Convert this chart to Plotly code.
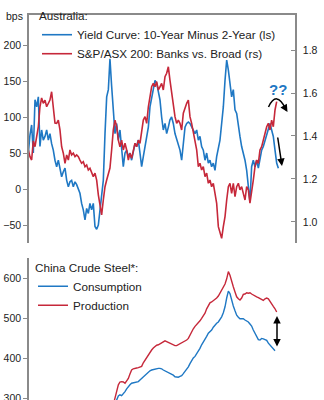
import plotly.graph_objects as go
import pandas as pd

# ---------------- data (bimonthly observations) ----------------
# Australia: yield curve 10Y minus 2Y, bps (left scale)
yield_curve_bps = [50, 75, 89, 50, 124, 114, 128, 59, 82, 68, 73, 82, 68, 77, 63, 54, 40, 31, 40, 29,
                   17, 24, 29, 12, 3, 10, 12, 3, 10, 6, -1, -6, -20, -29, -43, -27, -34, -20, -29, -20,
                   -52, -56, -50, -29, -15, 12, 77, 128, 138, 181, 143, 110, 77, 91, 68, 82, 54, 31, 50, 54,
                   45, 50, 40, 54, 63, 59, 68, 50, 31, 45, 59, 68, 86, 114, 128, 138, 151, 147, 133, 124,
                   100, 82, 91, 77, 86, 96, 100, 91, 77, 68, 63, 54, 40, 63, 86, 91, 93, 91, 86, 82,
                   77, 82, 68, 73, 59, 54, 40, 50, 36, 40, 31, 36, 26, 45, 59, 68, 91, 114, 151, 179,
                   165, 144, 128, 138, 110, 105, 86, 73, 59, 50, 40, 26, 3, -18, 31, 40, 31, 40, 29, 45,
                   54, 59, 68, 77, 86, 91, 82, 73, 54, 36, 29]
# S&P/ASX 200 banks vs. broad market, ratio (right scale)
banks_vs_broad = [1.335, 1.304, 1.288, 1.377, 1.350, 1.397, 1.443, 1.536, 1.577, 1.552, 1.567, 1.536, 1.552, 1.567,
                  1.606, 1.544, 1.460, 1.459, 1.474, 1.428, 1.350, 1.320, 1.273, 1.312, 1.288, 1.335, 1.312, 1.320,
                  1.304, 1.312, 1.304, 1.288, 1.273, 1.280, 1.257, 1.265, 1.242, 1.250, 1.227, 1.211, 1.227, 1.195,
                  1.126, 1.087, 1.033, 1.102, 1.164, 1.195, 1.227, 1.251, 1.335, 1.428, 1.474, 1.443, 1.381, 1.350,
                  1.381, 1.335, 1.366, 1.335, 1.288, 1.320, 1.296, 1.335, 1.366, 1.350, 1.381, 1.366, 1.413, 1.474,
                  1.490, 1.459, 1.536, 1.583, 1.629, 1.645, 1.629, 1.653, 1.614, 1.629, 1.645, 1.614, 1.676, 1.692,
                  1.722, 1.660, 1.599, 1.536, 1.490, 1.459, 1.474, 1.459, 1.428, 1.506, 1.536, 1.552, 1.567, 1.490,
                  1.459, 1.413, 1.381, 1.335, 1.257, 1.273, 1.242, 1.257, 1.211, 1.227, 1.180, 1.195, 1.164, 1.180,
                  1.133, 1.087, 0.978, 0.947, 0.924, 0.978, 1.025, 1.102, 1.164, 1.180, 1.133, 1.180, 1.118, 1.164,
                  1.180, 1.149, 1.164, 1.133, 1.102, 1.164, 1.149, 1.087, 1.133, 1.195, 1.257, 1.288, 1.273, 1.335,
                  1.350, 1.381, 1.413, 1.443, 1.459, 1.428, 1.474, 1.443, 1.521, 1.560]
# China crude steel
steel_production = [284, 301, 321, 334, 341, 342, 341, 338, 344, 350, 361, 371, 374, 376, 376, 377, 378, 380, 389, 396,
                    402, 409, 415, 421, 426, 430, 433, 434, 436, 438, 441, 444, 442, 440, 438, 435, 434, 432, 432, 434,
                    436, 438, 441, 444, 446, 450, 459, 467, 474, 480, 484, 488, 494, 500, 506, 513, 524, 534, 539, 541,
                    544, 548, 551, 556, 564, 571, 579, 586, 599, 617, 608, 596, 579, 566, 554, 549, 546, 551, 560, 561,
                    564, 563, 564, 561, 558, 556, 554, 552, 550, 546, 545, 549, 551, 549, 542, 536, 530, 524, 516]
steel_consumption = [271, 296, 306, 309, 307, 311, 317, 324, 330, 334, 338, 339, 340, 341, 342, 346, 350, 355, 359, 362,
                     365, 369, 371, 372, 374, 375, 375, 375, 374, 371, 369, 367, 365, 363, 360, 358, 354, 354, 353, 355,
                     357, 362, 367, 374, 379, 387, 396, 401, 405, 411, 417, 425, 434, 440, 446, 455, 463, 466, 471, 478,
                     484, 488, 491, 496, 504, 514, 529, 551, 568, 562, 544, 531, 519, 508, 503, 499, 499, 499, 496, 494,
                     491, 486, 481, 471, 463, 456, 447, 446, 450, 449, 446, 445, 438, 434, 429, 424, 419]

top_dates = pd.date_range("2001-01-01", periods=len(yield_curve_bps), freq="2MS")
bank_dates = pd.date_range("2001-01-01", periods=len(banks_vs_broad), freq="2MS")
prod_dates = pd.date_range("2009-07-01", periods=len(steel_production), freq="2MS")
cons_dates = pd.date_range("2009-09-01", periods=len(steel_consumption), freq="2MS")

left_ticks_top = [-50, 0, 50, 100, 150, 200]
right_ticks_top = [1.0, 1.2, 1.4, 1.6, 1.8]
ticks_bottom = [300, 400, 500, 600]

# ---------------- style ----------------
BLUE = "#1f78c4"
RED = "#c6283a"
GREY = "#8a8a8a"
TXT = "#222222"
FONT = "Liberation Sans, Arial, sans-serif"
W, H = 324, 400
ML, MR, MT, MB = 29, 29, 15, 0
PW, PH = W - ML - MR, H - MT - MB


def px_x(p):
    return (p - ML) / PW


def px_y(p):
    return (H - MB - p) / PH


XRANGE = ["2001-01-25", "2027-09-01"]

fig = go.Figure()
fig.add_trace(go.Scatter(x=top_dates, y=yield_curve_bps, name="Yield Curve: 10-Year Minus 2-Year (ls)",
                         mode="lines", line=dict(color=BLUE, width=1.6), xaxis="x", yaxis="y", legend="legend"))
fig.add_trace(go.Scatter(x=bank_dates, y=banks_vs_broad, name="S&P/ASX 200: Banks vs. Broad (rs)",
                         mode="lines", line=dict(color=RED, width=1.6), xaxis="x", yaxis="y2", legend="legend"))
fig.add_trace(go.Scatter(x=cons_dates, y=steel_consumption, name="Consumption",
                         mode="lines", line=dict(color=BLUE, width=1.4), xaxis="x2", yaxis="y3", legend="legend2"))
fig.add_trace(go.Scatter(x=prod_dates, y=steel_production, name="Production",
                         mode="lines", line=dict(color=RED, width=1.4), xaxis="x2", yaxis="y3", legend="legend2"))

axis_common = dict(showgrid=False, zeroline=False, showline=True, linecolor=GREY, linewidth=1.5,
                   tickcolor=GREY, ticklen=4, tickwidth=1, automargin=False,
                   tickfont=dict(size=10.5, color=TXT, family=FONT))
top_dom = [px_y(243), 1]
bot_dom = [0, px_y(258)]

fig.update_layout(
    width=W, height=H, margin=dict(l=ML, r=MR, t=MT, b=MB, autoexpand=False),
    paper_bgcolor="white", plot_bgcolor="white",
    font=dict(family=FONT, color=TXT, size=11.7),
    xaxis=dict(domain=[0, 1], range=XRANGE, anchor="y", side="top", showline=True, linecolor=GREY,
               linewidth=1.5, showticklabels=False, ticks="", showgrid=False, zeroline=False, automargin=False),
    xaxis2=dict(domain=[0, 1], range=XRANGE, anchor="y3", showline=False, showticklabels=False,
                ticks="", showgrid=False, zeroline=False, automargin=False),
    yaxis=dict(domain=top_dom, range=[-75, 241.7], tickvals=left_ticks_top, ticks="outside",
               anchor="x", **axis_common),
    yaxis2=dict(domain=top_dom, range=[0.902, 1.963], tickvals=right_ticks_top, tickformat=".1f",
                ticks="inside", overlaying="y", side="right", anchor="x", ticklabelstandoff=4, **axis_common),
    yaxis3=dict(domain=bot_dom, range=[296, 651], tickvals=ticks_bottom, ticks="outside",
                anchor="x2", ticklabeloverflow="allow", **axis_common),
    yaxis4=dict(domain=bot_dom, range=[296, 651], tickvals=ticks_bottom, ticks="inside",
                overlaying="y3", side="right", anchor="x2", ticklabelstandoff=4, ticklabeloverflow="allow",
                **axis_common),
    legend=dict(x=px_x(37), y=px_y(5), xanchor="left", yanchor="top", bgcolor="rgba(0,0,0,0)",
                title=dict(text="Australia:", font=dict(size=11.7)), font=dict(size=11.7),
                tracegroupgap=0, borderwidth=0),
    legend2=dict(x=px_x(33), y=px_y(256.5), xanchor="left", yanchor="top", bgcolor="rgba(0,0,0,0)",
                 title=dict(text="China Crude Steel*:", font=dict(size=11.7)), font=dict(size=11.7),
                 tracegroupgap=0, borderwidth=0),
    showlegend=True,
)

annotations = [
    dict(text="bps", x=px_x(25), y=px_y(16), xref="paper", yref="paper", xanchor="right", yanchor="middle",
         showarrow=False, font=dict(size=10.5, color=TXT)),
    dict(text="<b>??</b>", x=px_x(277.5), y=px_y(90), xref="paper", yref="paper", xanchor="center",
         yanchor="middle", showarrow=False, font=dict(size=15, color=BLUE)),
    # straight down arrow
    dict(text="", x=px_x(282), y=px_y(166), xref="paper", yref="paper", ax=-4.5, ay=-30,
         showarrow=True, arrowhead=2, arrowsize=1, arrowwidth=1.5, arrowcolor="black"),
    # head of curved arrow
    dict(text="", x=px_x(287.5), y=px_y(112), xref="paper", yref="paper", ax=-3, ay=-5,
         showarrow=True, arrowhead=2, arrowsize=1, arrowwidth=1.5, arrowcolor="black"),
    # double headed arrow in steel panel
    dict(text="", x=px_x(277), y=px_y(316), xref="paper", yref="paper", ax=0, ay=32,
         showarrow=True, arrowhead=2, startarrowhead=2, arrowside="end+start", arrowsize=1,
         arrowwidth=1.5, arrowcolor="black"),
]
fig.update_layout(annotations=annotations)

arc = "M {:.4f},{:.4f} Q {:.4f},{:.4f} {:.4f},{:.4f}".format(
    px_x(268.5), px_y(107), px_x(276.5), px_y(90), px_x(285.5), px_y(108.5))
fig.add_shape(type="path", path=arc, xref="paper", yref="paper", line=dict(color="black", width=1.5))

fig.write_html("out.html")
